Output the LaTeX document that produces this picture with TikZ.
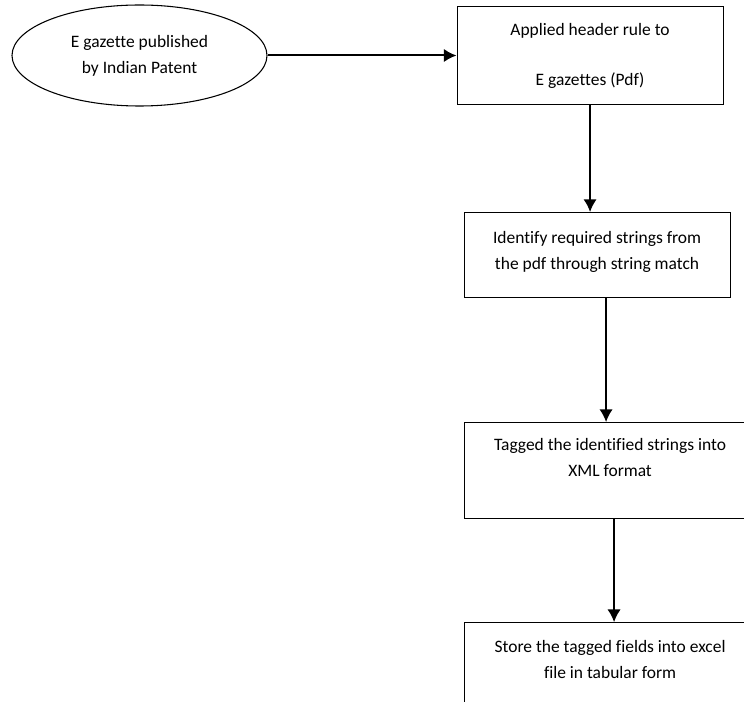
\documentclass[tikz,border=0pt]{standalone}
\usepackage{fontspec}
\setmainfont[Ligatures=NoCommon]{Carlito}
\usepackage{tikz}
\usetikzlibrary{positioning}
\usetikzlibrary{arrows.meta}
\usetikzlibrary{shapes.geometric}

\begin{document}
\begin{tikzpicture}[
        x=0.75pt, y=-0.75pt,
        box/.style={
            rectangle,
            draw,
            line width=0.8pt,
            minimum width=199.5pt,
            inner sep=0pt,
            align=center,
            font=\fontsize{13.1}{20}\selectfont
        },
        source/.style={
            ellipse,
            draw,
            line width=0.8pt,
            minimum width=191.25pt,
            minimum height=75.75pt,
            inner sep=0pt,
            align=center,
            font=\fontsize{13.1}{19.5}\selectfont
        },
        arrow/.style={-{Latex[length=9.5pt,width=10pt]}, line width=1.5pt}
    ]

    \useasboundingbox (0,0) rectangle (744,702);
    \clip (0,0) rectangle (744,702);

    \node[source] (gazette) at (139.5,55.5) {E gazette published\\by Indian Patent};
    \node[box, minimum height=73.5pt, right=141.75pt of gazette] (header) {Applied header rule to\\[17.5pt]E gazettes (Pdf)};
    \node[box, minimum height=63.75pt, below right=80.25pt and 5.25pt of header.south west] (strings) {Identify required strings from\\the pdf through string match\\[-13pt]\mbox{}};
    \node[box, minimum width=219pt, minimum height=72pt, below right=93pt and 0pt of strings.south west] (xml) {Tagged the identified strings into\\XML format\\\mbox{}};
    \node[box, minimum width=219pt, minimum height=75pt, below right=77.25pt and 0pt of xml.south west] (excel) {Store the tagged fields into excel\\file in tabular form\\\mbox{}};

    \draw[arrow] (gazette) -- (header);
    \draw[arrow] (header.south) -- (header.south |- strings.north);
    \draw[arrow] ([xshift=6.75pt]strings.south) -- ([xshift=6.75pt]strings.south |- xml.north);
    \draw[arrow] ([xshift=3pt]xml.south) -- ([xshift=3pt]xml.south |- excel.north);

    \end{tikzpicture}
\end{document}
